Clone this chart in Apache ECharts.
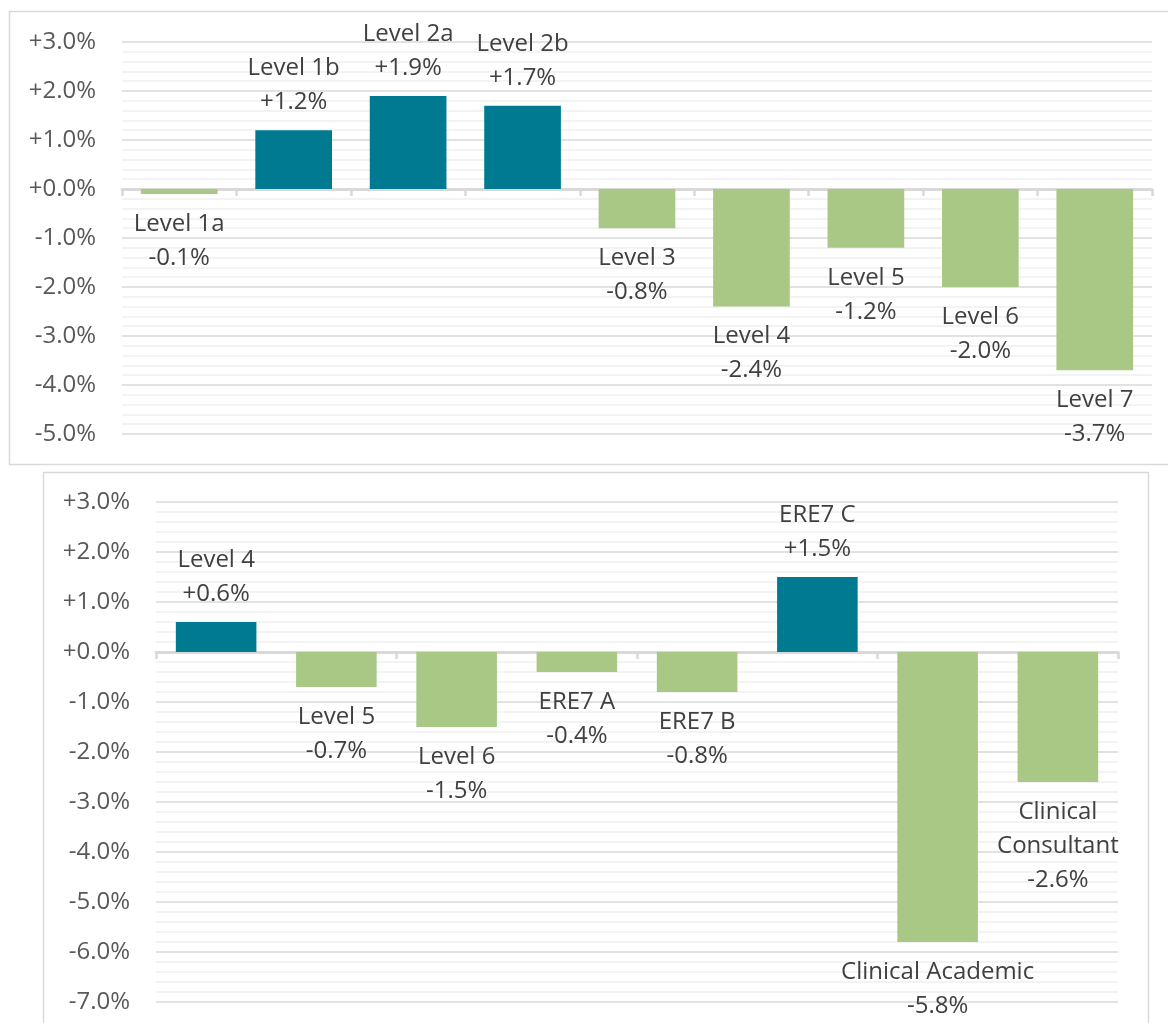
<!DOCTYPE html>
<html>
<head>
<meta charset="utf-8">
<script src="https://cdn.jsdelivr.net/npm/echarts@6/dist/echarts.min.js"></script>
<style>
html,body{margin:0;padding:0;background:#fff;}
#chart{width:1168px;height:1023px;}
</style>
</head>
<body>
<div id="chart"></div>
<script>
// top chart: pay levels
let topCats = ['Level 1a','Level 1b','Level 2a','Level 2b','Level 3','Level 4','Level 5','Level 6','Level 7'];
let topVals = [-0.1, 1.2, 1.9, 1.7, -0.8, -2.4, -1.2, -2.0, -3.7];
// bottom chart
let botCats = ['Level 4','Level 5','Level 6','ERE7 A','ERE7 B','ERE7 C','Clinical Academic','Clinical\nConsultant'];
let botVals = [0.6, -0.7, -1.5, -0.4, -0.8, 1.5, -5.8, -2.6];

let teal = '#007A91';
let green = '#A9C785';
let font = '"Open Sans", sans-serif';

function pct(v){
  return (v >= 0 ? '+' : '') + v.toFixed(1) + '%';
}

function makeData(cats, vals){
  return vals.map(function(v, i){
    return {
      value: v,
      itemStyle: {color: v >= 0 ? teal : green},
      label: {
        show: true,
        position: v >= 0 ? 'top' : 'bottom',
        distance: v >= 0 ? 11 : 13,
        formatter: cats[i] + '\n' + pct(v)
      }
    };
  });
}

function yAxisOpt(idx, min, max){
  return {
    gridIndex: idx,
    type: 'value',
    min: min, max: max, interval: 1,
    axisLine: {show: false},
    axisTick: {show: false},
    axisLabel: {
      margin: 26, color: '#595959', fontSize: 24, fontFamily: font,
      formatter: function(v){ return pct(v); }
    },
    splitLine: {lineStyle: {color: '#d9d9d9', width: 1.5}},
    minorTick: {show: false, splitNumber: 5},
    minorSplitLine: {show: true, lineStyle: {color: '#f0f0f0', width: 1.5}}
  };
}

function xAxisOpt(idx, cats){
  return {
    gridIndex: idx,
    type: 'category',
    data: cats,
    axisLine: {onZero: true, lineStyle: {color: '#d9d9d9', width: 3}},
    axisTick: {show: true, length: 7, lineStyle: {color: '#d9d9d9', width: 2.5}},
    axisLabel: {show: false}
  };
}

let labelStyle = {color: '#404040', fontSize: 24, fontFamily: font, lineHeight: 34};

let chart = echarts.init(document.getElementById('chart'), null, {renderer: 'canvas'});
chart.setOption({
  animation: false,
  graphic: [
    {type: 'rect', shape: {x: 9.5, y: 11.5, width: 1170, height: 453},
     style: {fill: 'none', stroke: '#d9d9d9', lineWidth: 1.5}, silent: true},
    {type: 'rect', shape: {x: 43.5, y: 472.5, width: 1105, height: 600},
     style: {fill: 'none', stroke: '#d9d9d9', lineWidth: 1.5}, silent: true}
  ],
  grid: [
    {left: 122, top: 42, width: 1030, height: 392},
    {left: 156, top: 502, width: 962, height: 500}
  ],
  xAxis: [xAxisOpt(0, topCats), xAxisOpt(1, botCats)],
  yAxis: [yAxisOpt(0, -5, 3), yAxisOpt(1, -7, 3)],
  series: [
    {
      type: 'bar', xAxisIndex: 0, yAxisIndex: 0,
      barCategoryGap: '33%',
      label: labelStyle,
      data: makeData(topCats, topVals)
    },
    {
      type: 'bar', xAxisIndex: 1, yAxisIndex: 1,
      barCategoryGap: '33%',
      label: labelStyle,
      data: makeData(botCats, botVals)
    }
  ]
});
</script>
</body>
</html>
